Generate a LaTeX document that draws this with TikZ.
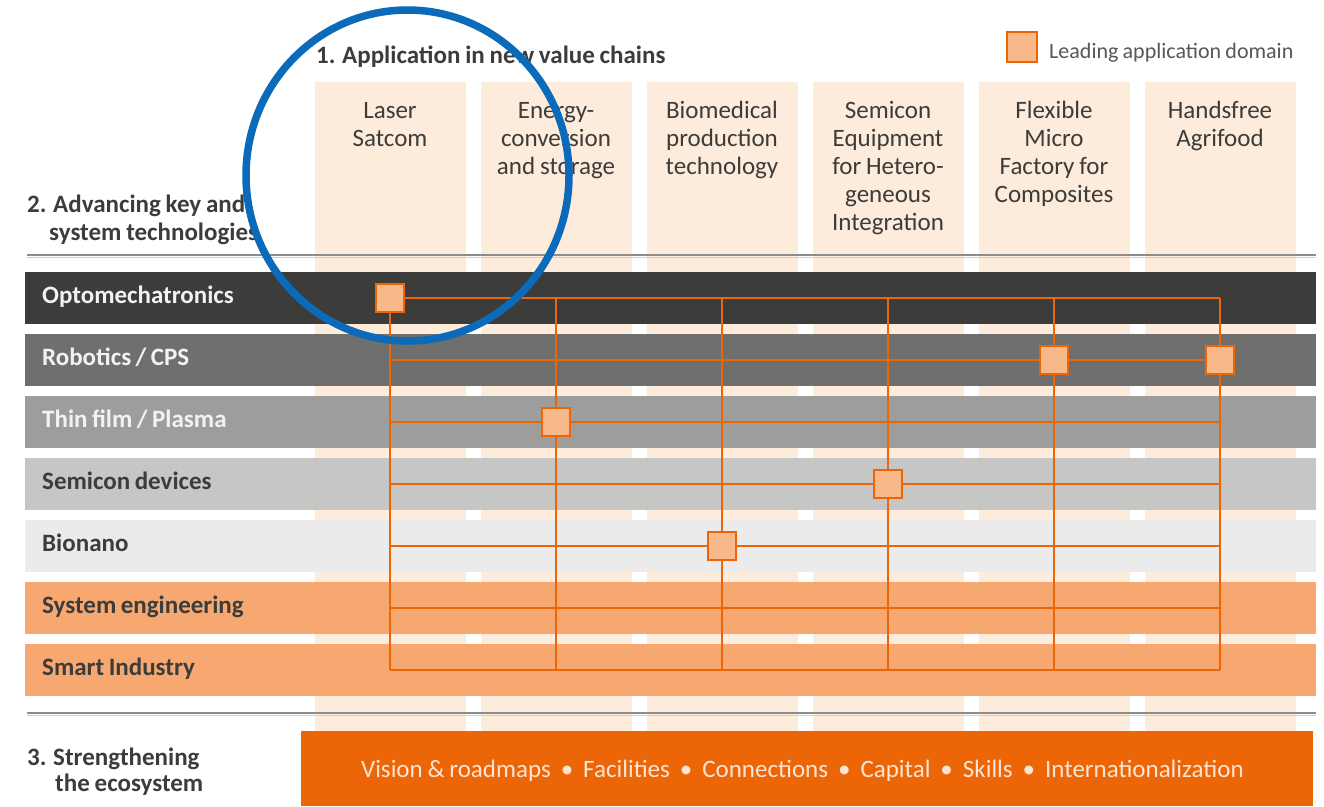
\documentclass[tikz,border=0pt]{standalone}
\usepackage{fontspec}
\setmainfont{Carlito}[WordSpace=0.85]
\newcommand\bigtype{\fontsize{25}{28}\selectfont}
\newcommand\smalltype{\fontsize{22}{26}\selectfont}
\newcommand\tightspaces{\spaceskip=4.5pt plus 1pt minus 1pt\relax}

\definecolor{colpeach}{HTML}{FDEBDC}
\definecolor{optoc}{HTML}{3C3C3B}
\definecolor{roboc}{HTML}{6F6F6E}
\definecolor{thinc}{HTML}{9D9D9C}
\definecolor{semic}{HTML}{C6C6C5}
\definecolor{bionc}{HTML}{EBEBEB}
\definecolor{bandorange}{HTML}{F6A870}
\definecolor{lineorange}{HTML}{EC6608}
\definecolor{sqfill}{HTML}{F8B98A}
\definecolor{ecotext}{HTML}{FCE4D4}
\definecolor{darktext}{HTML}{3C3C3B}
\definecolor{lighttext}{HTML}{F2F2F2}
\definecolor{legendgrey}{HTML}{575756}
\definecolor{rulegrey}{HTML}{8C8C8C}
\definecolor{ruleshade}{HTML}{D0D0D0}
\definecolor{ringblue}{HTML}{0B6BBA}

\begin{document}
\begin{tikzpicture}[x=1pt,y=-1pt,
  colbox/.style={fill=colpeach, draw=none, minimum width=151pt, minimum height=649pt, inner sep=0pt},
  coltext/.style={anchor=base, align=center, text=darktext, font=\bigtype, inner sep=0pt},
  rowbox/.style={anchor=west, draw=none, minimum width=1291pt, minimum height=52pt,
    inner xsep=17pt, inner ysep=0pt, text width=1257pt, align=left,
    text height=15.5pt, text depth=4.5pt, font=\bigtype\bfseries},
  gridline/.style={draw=lineorange, line width=2.2pt},
  leadsq/.style={fill=sqfill, draw=lineorange, line width=2pt, minimum width=28pt, minimum height=28pt, inner sep=0pt},
  heading/.style={anchor=base west, inner sep=0pt, text=darktext, font=\bigtype\bfseries},
  rulemain/.style={draw=rulegrey, line width=2pt},
  ruleunder/.style={draw=ruleshade, line width=1.2pt},
  ecobox/.style={fill=lineorange, draw=none, minimum width=1012pt, minimum height=75pt, inner sep=0pt,
    text=ecotext, font=\bigtype, text height=17pt, text depth=0pt},
  bluering/.style={draw=ringblue, line width=7.5pt}
]
\useasboundingbox (0,0) rectangle (1324,806);
\fill[white] (0,0) rectangle (1324,806);

% application columns (the label node sits on the baseline of its last line)
\foreach \i/\n/\txt in {0/2/{Laser\\Satcom},
                        1/3/{Energy-\\conversion\\and storage},
                        2/3/{Biomedical\\production\\technology},
                        3/5/{Semicon\\Equipment\\for Hetero-\\geneous\\Integration},
                        4/4/{Flexible\\Micro\\Factory for\\Composites},
                        5/2/{Handsfree\\Agrifood}} {
  \node[colbox] (col\i) at (390+166*\i, 406.5) {};
  \node[coltext] (coltxt\i) at (390+166*\i, 118+28*\n-28) {\txt};
}

% technology rows
\foreach \j/\name/\bg/\fg in {0/Optomechatronics/optoc/lighttext,
                              1/{Robotics / CPS}/roboc/lighttext,
                              2/{Thin film / Plasma}/thinc/lighttext,
                              3/{Semicon devices}/semic/darktext,
                              4/Bionano/bionc/darktext,
                              5/{System engineering}/bandorange/darktext,
                              6/{Smart Industry}/bandorange/darktext} {
  \node[rowbox, fill=\bg, text=\fg] (row\j) at (25, 298+62*\j) {\tightspaces\name};
}

% separating rules
\coordinate (ruleAl) at (27,255);   \coordinate (ruleAr) at (1316,255);
\coordinate (ruleBl) at (27,713);   \coordinate (ruleBr) at (1316,713);
\draw[ruleunder] ([yshift=-2.2pt]ruleAl) -- ([yshift=-2.2pt]ruleAr);
\draw[rulemain] (ruleAl) -- (ruleAr);
\draw[ruleunder] ([yshift=-2.2pt]ruleBl) -- ([yshift=-2.2pt]ruleBr);
\draw[rulemain] (ruleBl) -- (ruleBr);

% connection grid
\foreach \j in {0,...,6} {
  \foreach \i in {0,...,5} {
    \coordinate (g\j-\i) at (390+166*\i, 298+62*\j);
  }
}
\foreach \j in {0,...,6} { \draw[gridline] (g\j-0) -- (g\j-5); }
\foreach \i in {0,...,5} { \draw[gridline] (g0-\i) -- (g6-\i); }

% leading application domains
\node[leadsq] (lead-opto)  at (g0-0) {};
\node[leadsq] (lead-robA)  at (g1-4) {};
\node[leadsq] (lead-robB)  at (g1-5) {};
\node[leadsq] (lead-thin)  at (g2-1) {};
\node[leadsq] (lead-semi)  at (g3-3) {};
\node[leadsq] (lead-bion)  at (g4-2) {};

% legend
\node[leadsq, minimum width=30pt, minimum height=30pt] (legendsq) at (1022,47) {};
\node[anchor=base west, inner sep=0pt, text=legendgrey, font=\smalltype] (legendlbl) at (1049,58) {Leading application domain};

% headings
\node[heading] (head1) at (316,63) {1. Application in new value chains};
\node[heading] (head2a) at (27,212) {2. Advancing key and};
\node[heading] (head2b) at (49,240) {system technologies};
\node[heading] (head3a) at (27,765) {3. Strengthening};
\node[heading] (head3b) at (55,791) {the ecosystem};

% ecosystem bar
\node[ecobox] (eco) at (807,768.5) {Vision \& roadmaps\hspace{10pt}•\hspace{10pt}Facilities\hspace{10pt}•\hspace{10pt}Connections\hspace{10pt}•\hspace{10pt}Capital\hspace{10pt}•\hspace{10pt}Skills\hspace{10pt}•\hspace{10pt}Internationalization\kern9pt};

% highlight ring
\draw[bluering] (407.5,175.5) ellipse [x radius=161.5pt, y radius=165.5pt];
\end{tikzpicture}
\end{document}
